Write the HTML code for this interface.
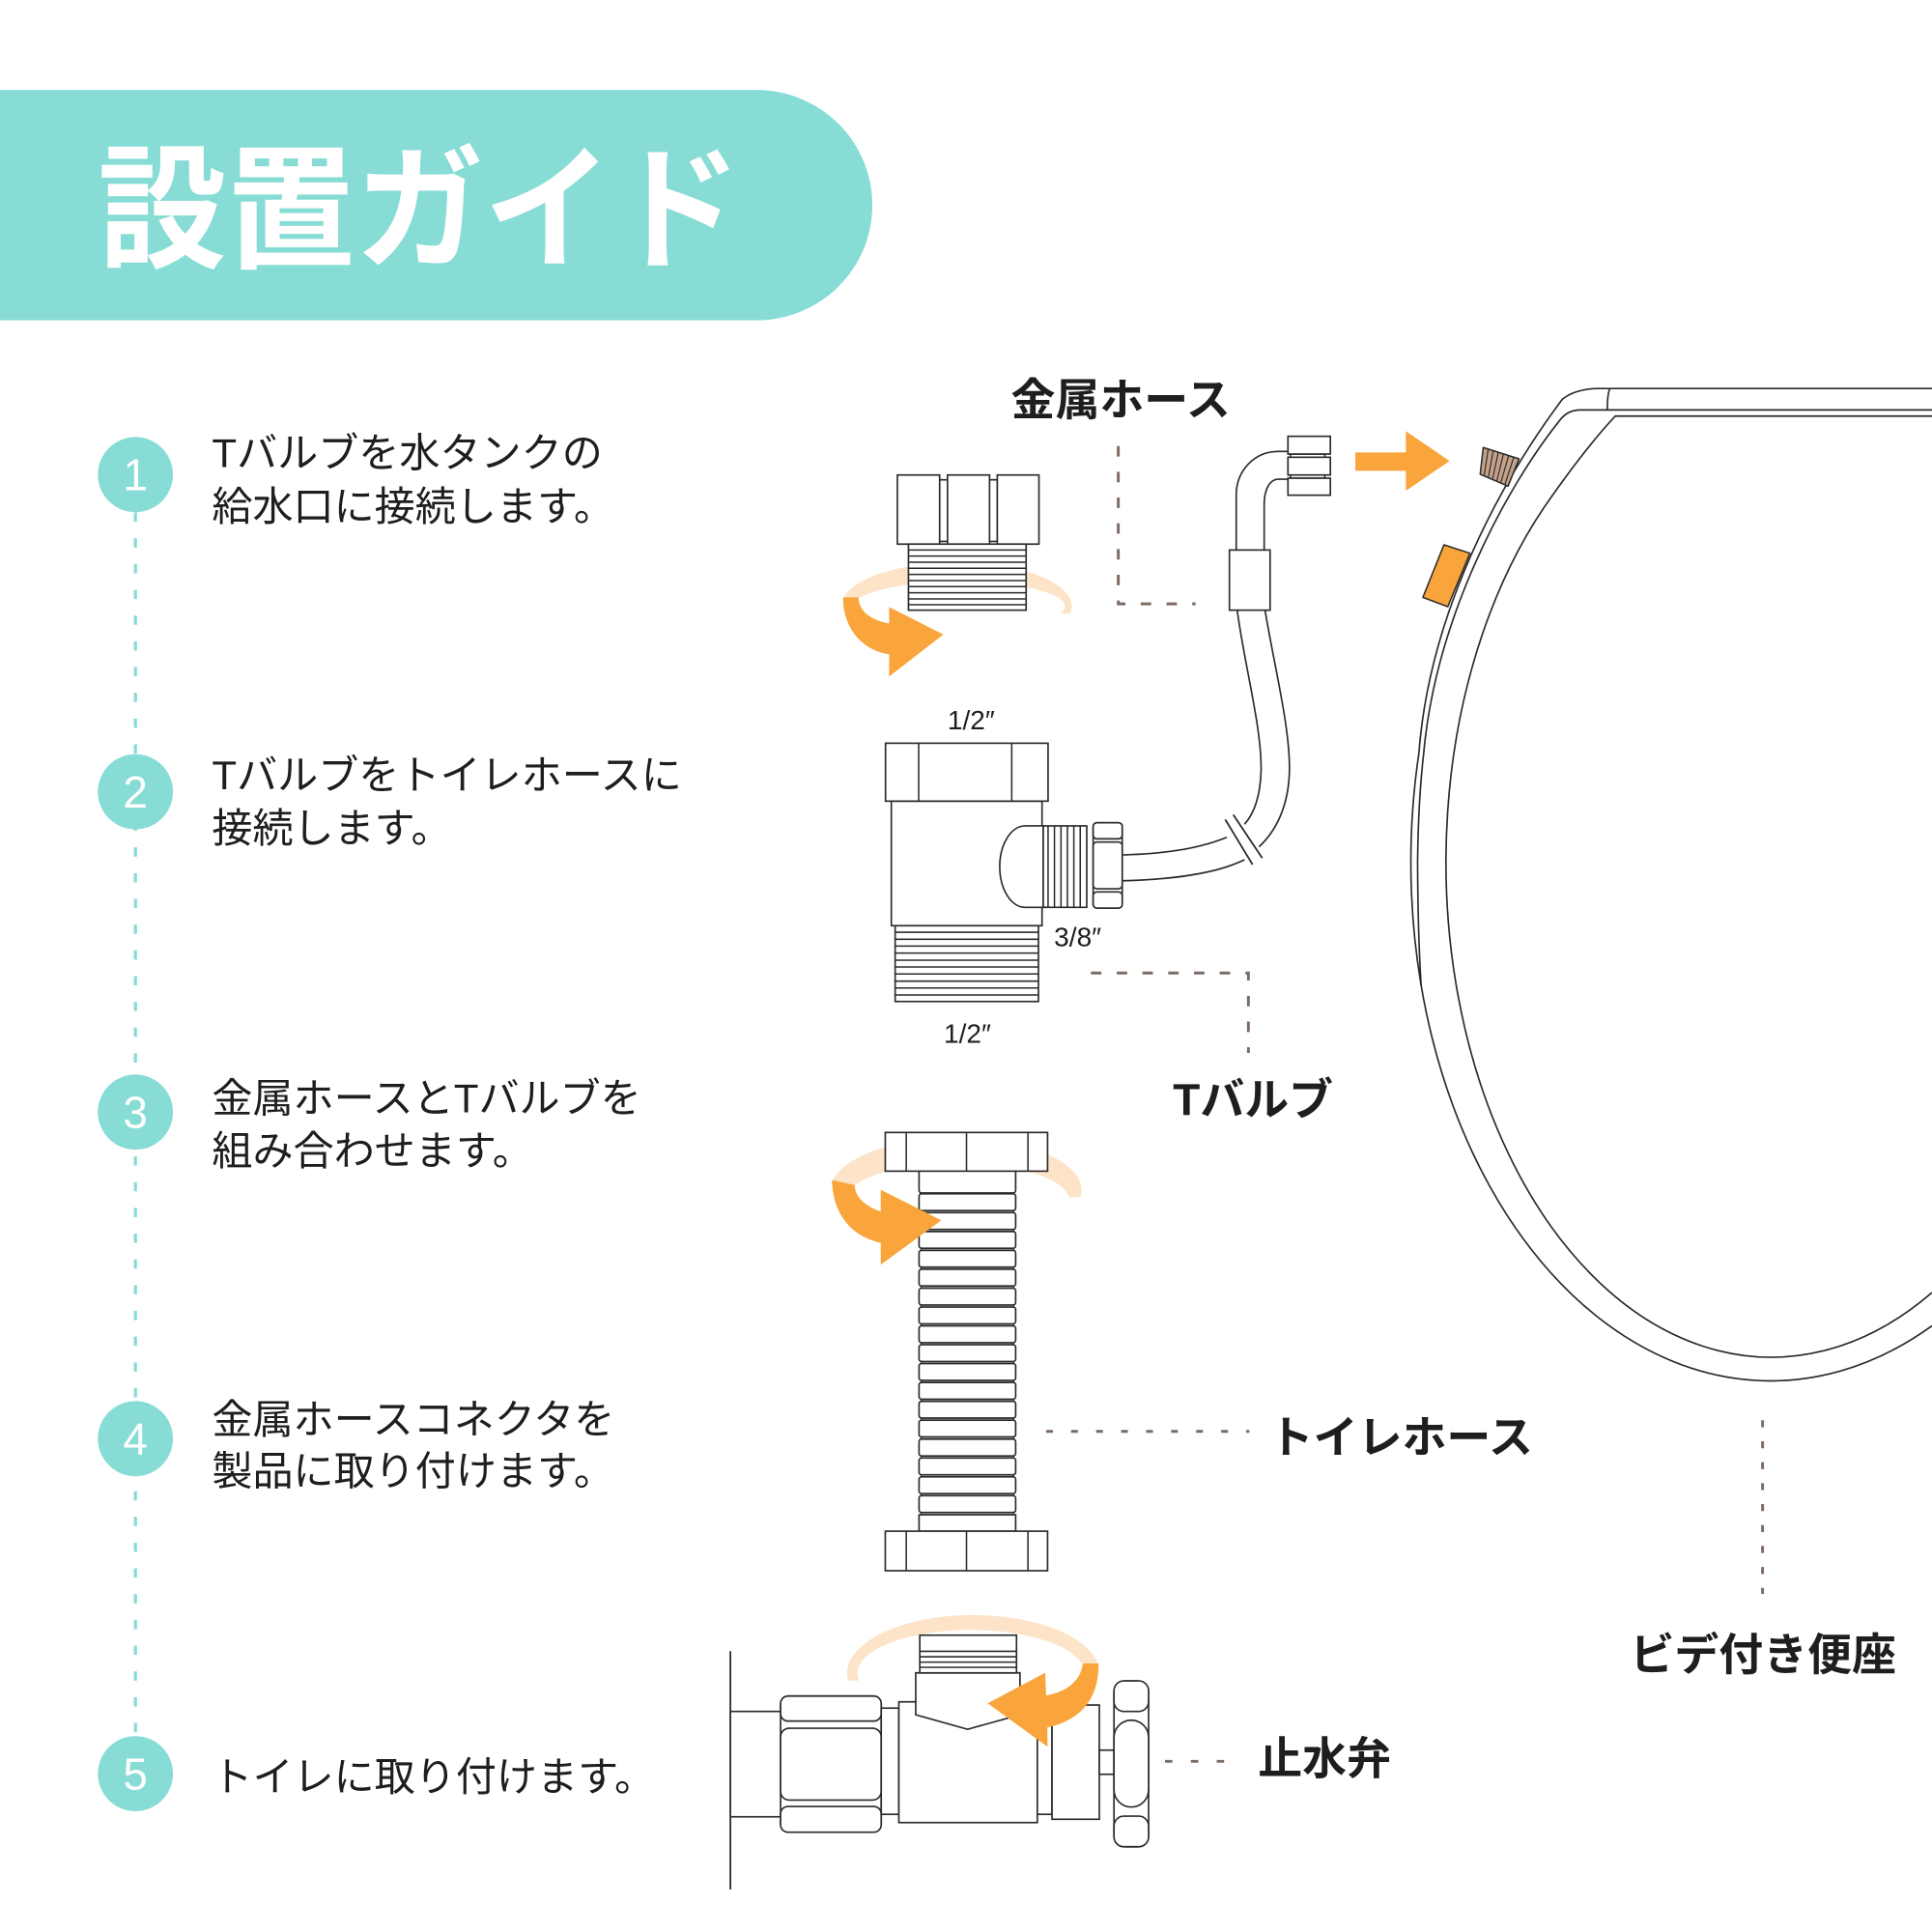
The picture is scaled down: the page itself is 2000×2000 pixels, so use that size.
<!DOCTYPE html>
<html><head><meta charset="utf-8"><style>
html,body{margin:0;padding:0;background:#fff;}
svg{display:block;}
.ln{fill:#fff;stroke:#2a2a2a;stroke-width:1.3;}
.nl{fill:none;stroke:#2a2a2a;stroke-width:1.3;}
.th{stroke:#2a2a2a;stroke-width:1.2;}
.body{font-family:"Liberation Sans","Noto Sans CJK JP",sans-serif;font-size:33px;fill:#1e1e1e;}
.lab{font-family:"Liberation Sans","Noto Sans CJK JP",sans-serif;font-size:36px;font-weight:bold;fill:#1e1e1e;}
.num{font-family:"Liberation Sans",sans-serif;font-size:36px;fill:#fff;text-anchor:middle;}
.dim{font-family:"Liberation Sans","DejaVu Sans",sans-serif;font-size:22px;fill:#1e1e1e;}
.dash{fill:none;stroke:#7b6b63;stroke-width:2.3;}
</style></head><body>
<svg width="2000" height="2000" viewBox="0 0 1568 1568" xmlns="http://www.w3.org/2000/svg">
<rect x="0" y="0" width="1568" height="1568" fill="#fff"/>

<!-- Banner -->
<path d="M0,73 H614 A94,93.5 0 0 1 614,260 H0 Z" fill="#88dcd6"/>
<text x="79.5" y="209" font-family="'Liberation Sans','Noto Sans CJK JP',sans-serif" font-size="110" font-weight="bold" fill="#fff" textLength="522" lengthAdjust="spacingAndGlyphs">設置ガイド</text>

<!-- Left timeline -->
<line x1="109.9" y1="416" x2="109.9" y2="1409" stroke="#88dcd6" stroke-width="2.6" stroke-dasharray="7.5 13.4"/>
<circle cx="109.9" cy="385.2" r="30.5" fill="#88dcd6"/>
<circle cx="109.9" cy="642.6" r="30.5" fill="#88dcd6"/>
<circle cx="109.9" cy="902.6" r="30.5" fill="#88dcd6"/>
<circle cx="109.9" cy="1167.6" r="30.5" fill="#88dcd6"/>
<circle cx="109.9" cy="1439.5" r="30.5" fill="#88dcd6"/>
<text class="num" x="109.9" y="398">1</text>
<text class="num" x="109.9" y="655.5">2</text>
<text class="num" x="109.9" y="915.5">3</text>
<text class="num" x="109.9" y="1180.5">4</text>
<text class="num" x="109.9" y="1452.5">5</text>

<text class="body" x="172" y="379">Tバルブを水タンクの</text>
<text class="body" x="172" y="422.5">給水口に接続します。</text>
<text class="body" x="172" y="640.5">Tバルブをトイレホースに</text>
<text class="body" x="172" y="683.5">接続します。</text>
<text class="body" x="172" y="902.6">金属ホースとTバルブを</text>
<text class="body" x="172" y="945.6">組み合わせます。</text>
<text class="body" x="172" y="1163.6">金属ホースコネクタを</text>
<text class="body" x="172" y="1205.6">製品に取り付けます。</text>
<text class="body" x="172" y="1453.6">トイレに取り付けます。</text>

<!-- Labels -->
<text class="lab" x="820.5" y="337">金属ホース</text>
<text class="lab" x="952" y="905">Tバルブ</text>
<text class="lab" x="1030" y="1179" font-size="35.5">トイレホース</text>
<text class="lab" x="1323" y="1355.5">ビデ付き便座</text>
<text class="lab" x="1021" y="1440" font-size="37.5">止水弁</text>

<!-- Dashed connectors -->
<path class="dash" d="M907.6,362 V490.1 H970.3" stroke-dasharray="8.5 12.4"/>
<path class="dash" d="M885.4,789.7 H1013.2 V854.6" stroke-dasharray="8.5 12.4"/>
<path class="dash" d="M849,1161.7 H1014" stroke-dasharray="5.5 14.8"/>
<path class="dash" d="M1430.5,1152.7 V1293.6" stroke-dasharray="5.7 11.3"/>
<path class="dash" d="M945.5,1429.5 H994" stroke-dasharray="6 15"/>

<!-- ===== Step 1 fitting ===== -->
<path d="M684.3,486 A92,35 0 0 1 868.5,498 L860.3,498 A82,19 0 0 0 696.7,486 Z" fill="#fde4c8"/>
<rect class="ln" x="762.6" y="389.4" width="46.8" height="50"/>
<rect class="ln" x="728.3" y="385.5" width="34.3" height="56.1"/>
<rect class="ln" x="769" y="385.5" width="34.1" height="56.1"/>
<rect class="ln" x="809.4" y="385.5" width="33.8" height="56.1"/>
<rect class="ln" x="737.3" y="441.6" width="95.5" height="53.6"/>
<g class="th">
<line x1="737.3" y1="446.4" x2="832.8" y2="446.4"/>
<line x1="737.3" y1="451.3" x2="832.8" y2="451.3"/>
<line x1="737.3" y1="456.3" x2="832.8" y2="456.3"/>
<line x1="737.3" y1="461.2" x2="832.8" y2="461.2"/>
<line x1="737.3" y1="466.2" x2="832.8" y2="466.2"/>
<line x1="737.3" y1="471.2" x2="832.8" y2="471.2"/>
<line x1="737.3" y1="476.1" x2="832.8" y2="476.1"/>
<line x1="737.3" y1="481.1" x2="832.8" y2="481.1"/>
<line x1="737.3" y1="486.1" x2="832.8" y2="486.1"/>
<line x1="737.3" y1="490.8" x2="832.8" y2="490.8"/>
</g>
<path d="M684.3,484.8 C684,510 700,528 721.6,531 L721.6,549.1 L765.6,515 L721.6,492.6 L721.6,506 C705,503 697,495 696.7,484.8 Z" fill="#f9a53b"/>

<!-- ===== Metal hose ===== -->
<path class="nl" d="M1045.3,366.4 L1037.6,366.4 C1018,366.4 1003.3,382 1003.3,402 V446.4"/>
<path class="nl" d="M1045.3,388.9 L1037.6,388.9 C1030,389 1026,398 1026,410 V446.4"/>
<rect class="ln" x="1047.3" y="368.5" width="27.9" height="19.6"/>
<rect class="ln" x="1045.3" y="354.1" width="34.4" height="14.4"/>
<rect class="ln" x="1045.3" y="371.1" width="34.4" height="14.4"/>
<rect class="ln" x="1045.3" y="388.1" width="34.4" height="13.8"/>
<rect class="ln" x="997.8" y="446.4" width="33" height="48.8"/>
<path class="nl" d="M1004.1,495.2 C1010,540 1024,590 1023.5,625 C1023,645 1018,660 1010,669"/>
<path class="nl" d="M1026.7,495.2 C1034,540 1047,590 1046.5,625 C1046,655 1035,675 1021.8,687.3"/>
<path class="nl" d="M995.7,679.5 C970,690 940,693 911.5,693.9"/>
<path class="nl" d="M1010,697.8 C985,710 945,714 911.5,714.8"/>
<line x1="994.4" y1="665.1" x2="1016.6" y2="701.7" stroke="#2a2a2a" stroke-width="1.4"/>
<line x1="1000.9" y1="661.2" x2="1024.4" y2="696.4" stroke="#2a2a2a" stroke-width="1.4"/>

<!-- ===== T valve ===== -->
<text class="dim" x="769" y="592">1/2″</text>
<text class="dim" x="855.5" y="768">3/8″</text>
<text class="dim" x="766" y="846.5">1/2″</text>
<rect class="ln" x="723.4" y="650.2" width="122.3" height="101.1"/>
<rect class="ln" x="718.7" y="603.2" width="131.9" height="47"/>
<line class="th" x1="745.6" y1="603.2" x2="745.6" y2="650.2"/>
<line class="th" x1="821.1" y1="603.2" x2="821.1" y2="650.2"/>
<rect class="ln" x="726.5" y="751.3" width="116.3" height="61.5"/>
<g class="th">
<line x1="726.5" y1="756.6" x2="842.8" y2="756.6"/>
<line x1="726.5" y1="762.3" x2="842.8" y2="762.3"/>
<line x1="726.5" y1="767.8" x2="842.8" y2="767.8"/>
<line x1="726.5" y1="773.5" x2="842.8" y2="773.5"/>
<line x1="726.5" y1="779.3" x2="842.8" y2="779.3"/>
<line x1="726.5" y1="784.8" x2="842.8" y2="784.8"/>
<line x1="726.5" y1="790.5" x2="842.8" y2="790.5"/>
<line x1="726.5" y1="796.3" x2="842.8" y2="796.3"/>
<line x1="726.5" y1="801.8" x2="842.8" y2="801.8"/>
<line x1="726.5" y1="807.5" x2="842.8" y2="807.5"/>
</g>
<path class="ln" d="M846.7,670.3 H832 A20.6,33 0 0 0 832,736.4 H846.7 Z"/>
<rect class="ln" x="846.7" y="670.3" width="35.3" height="66.1"/>
<g class="th">
<line x1="850.6" y1="670.3" x2="850.6" y2="736.4"/>
<line x1="855.8" y1="670.3" x2="855.8" y2="736.4"/>
<line x1="861.1" y1="670.3" x2="861.1" y2="736.4"/>
<line x1="866.3" y1="670.3" x2="866.3" y2="736.4"/>
<line x1="871.5" y1="670.3" x2="871.5" y2="736.4"/>
<line x1="876.7" y1="670.3" x2="876.7" y2="736.4"/>
</g>
<rect class="ln" x="887.2" y="667.7" width="23.6" height="69.3" rx="3"/>
<rect class="ln" x="887.2" y="667.7" width="23.6" height="13.1" rx="3"/>
<rect class="ln" x="887.2" y="683.4" width="23.6" height="37.9" rx="3"/>
<rect class="ln" x="887.2" y="723.9" width="23.6" height="13.1" rx="3"/>

<!-- ===== Toilet hose ===== -->
<path d="M675.2,960 A101,42 0 0 1 876.8,971.7 L867.6,971.7 A91,30 0 0 0 693.7,962 Z" fill="#fde4c8"/>
<rect x="747.6" y="968" width="75" height="262" fill="#c5cbcb" stroke="#2a2a2a" stroke-width="1"/>
<rect class="ln" x="745.9" y="946" width="78.4" height="22.2" rx="2"/>
<rect class="ln" x="718.5" y="919.1" width="131.7" height="31.4"/>
<line class="th" x1="735.5" y1="919.1" x2="735.5" y2="950.5"/>
<line class="th" x1="784.4" y1="919.1" x2="784.4" y2="950.5"/>
<line class="th" x1="834.3" y1="919.1" x2="834.3" y2="950.5"/>
<g>
<rect class="ln" x="745.9" y="968.9" width="78.4" height="13.6" rx="2"/>
<rect class="ln" x="745.9" y="984.2" width="78.4" height="13.6" rx="2"/>
<rect class="ln" x="745.9" y="999.5" width="78.4" height="13.6" rx="2"/>
<rect class="ln" x="745.9" y="1014.8" width="78.4" height="13.6" rx="2"/>
<rect class="ln" x="745.9" y="1030.1" width="78.4" height="13.6" rx="2"/>
<rect class="ln" x="745.9" y="1045.5" width="78.4" height="13.6" rx="2"/>
<rect class="ln" x="745.9" y="1060.8" width="78.4" height="13.6" rx="2"/>
<rect class="ln" x="745.9" y="1076.1" width="78.4" height="13.6" rx="2"/>
<rect class="ln" x="745.9" y="1091.4" width="78.4" height="13.6" rx="2"/>
<rect class="ln" x="745.9" y="1106.7" width="78.4" height="13.6" rx="2"/>
<rect class="ln" x="745.9" y="1122.0" width="78.4" height="13.6" rx="2"/>
<rect class="ln" x="745.9" y="1137.3" width="78.4" height="13.6" rx="2"/>
<rect class="ln" x="745.9" y="1152.6" width="78.4" height="13.6" rx="2"/>
<rect class="ln" x="745.9" y="1168.0" width="78.4" height="13.6" rx="2"/>
<rect class="ln" x="745.9" y="1183.3" width="78.4" height="13.6" rx="2"/>
<rect class="ln" x="745.9" y="1198.6" width="78.4" height="13.6" rx="2"/>
<rect class="ln" x="745.9" y="1213.9" width="78.4" height="13.6" rx="2"/>
<rect class="ln" x="745.9" y="1229.4" width="78.4" height="13.3"/>
</g>
<rect class="ln" x="718.5" y="1242.7" width="131.7" height="32.1"/>
<line class="th" x1="735.5" y1="1242.7" x2="735.5" y2="1274.8"/>
<line class="th" x1="784.4" y1="1242.7" x2="784.4" y2="1274.8"/>
<line class="th" x1="834.3" y1="1242.7" x2="834.3" y2="1274.8"/>
<path d="M675.2,957.8 C676,985 690,1003 714.8,1008.7 L714.8,1026.5 L764,990.4 L714.8,965.6 L714.8,983.2 C700,978 693.7,970 693.7,961.8 Z" fill="#f9a53b"/>

<!-- ===== Stop valve ===== -->
<line x1="592.8" y1="1340.1" x2="592.8" y2="1533.5" stroke="#2a2a2a" stroke-width="1.4"/>
<rect class="ln" x="592.8" y="1389" width="41.4" height="85.5"/>
<path d="M688.2,1364 A102,47 0 0 1 891.6,1352 L878.9,1352 A92,35 0 0 0 697.2,1364 Z" fill="#fde4c8"/>
<rect class="ln" x="633.5" y="1376.5" width="81.7" height="110.5" rx="7"/>
<rect class="ln" x="633.5" y="1376.5" width="81.7" height="20.3" rx="6"/>
<rect class="ln" x="633.5" y="1402.6" width="81.7" height="58.3" rx="7"/>
<rect class="ln" x="633.5" y="1466.1" width="81.7" height="20.9" rx="6"/>
<rect class="ln" x="715.2" y="1386.3" width="14.3" height="86.2"/>
<rect class="ln" x="729.5" y="1381.2" width="112.4" height="98"/>
<path class="ln" d="M743.2,1357.7 H827.8 V1391.7 L785.3,1403.5 L743.2,1391.7 Z"/>
<rect class="ln" x="746.5" y="1327.1" width="78.5" height="30.6"/>
<g class="th">
<line x1="746.5" y1="1340.2" x2="825" y2="1340.2"/>
<line x1="746.5" y1="1344.6" x2="825" y2="1344.6"/>
<line x1="746.5" y1="1349" x2="825" y2="1349"/>
<line x1="746.5" y1="1353.2" x2="825" y2="1353.2"/>
</g>
<rect class="ln" x="841.9" y="1389" width="11.9" height="83.5"/>
<rect class="ln" x="853.8" y="1383.8" width="38.4" height="92.7"/>
<rect class="ln" x="892.2" y="1420.4" width="11.9" height="19.6"/>
<rect class="ln" x="904.1" y="1364.2" width="28.1" height="134.6" rx="9"/>
<rect class="ln" x="904.1" y="1364.2" width="28.1" height="24.8" rx="8"/>
<rect class="ln" x="904.1" y="1396.1" width="28.1" height="70.5" rx="14"/>
<rect class="ln" x="904.1" y="1474" width="28.1" height="24.8" rx="8"/>
<path d="M878.9,1350 L891.6,1350 C892,1378 878,1396 850,1402 L850.2,1417.7 L801.6,1382.4 L848.3,1357.6 L849,1376 C866,1373 877,1364 878.9,1350 Z" fill="#f9a53b"/>

<!-- ===== Seat ===== -->
<path class="nl" d="M1568,315.3 H1296 Q1278,316 1268,324 C1215,395 1160,500 1151.6,611 A292,421 0 0 0 1568,1076"/>
<path class="nl" d="M1568,332.7 H1282 Q1272,333 1266,341 C1219,400 1165,505 1155.5,611 Q1151,650 1150.5,700 Q1150.8,760 1153.4,800"/>
<path class="nl" d="M1568,337.7 H1311 C1290,360 1272,385 1260,402 A264,402 0 0 0 1568,1049"/>
<path class="nl" d="M1306.5,315.3 Q1304.5,320 1304.5,332.7"/>
<!-- brown nozzle -->
<path d="M1203.8,363.2 L1232.9,372.4 L1223.9,394.6 L1201.3,384.9 Z" fill="#c4a189" stroke="#2a2a2a" stroke-width="1.2" stroke-linejoin="round"/>
<g stroke="#2a2a2a" stroke-width="0.9">
<line x1="1207.8" y1="364.5" x2="1204.5" y2="386.3"/>
<line x1="1211.9" y1="365.8" x2="1207.9" y2="387.7"/>
<line x1="1216" y1="367.1" x2="1211.3" y2="389.2"/>
<line x1="1220.2" y1="368.4" x2="1214.7" y2="390.7"/>
<line x1="1224.4" y1="369.7" x2="1218" y2="392.1"/>
<line x1="1228.6" y1="371" x2="1221.3" y2="393.5"/>
</g>
<!-- orange tab -->
<path d="M1171.9,442.2 L1193,449 L1175,492.4 L1154.8,484.8 Z" fill="#f9a53b" stroke="#2a2a2a" stroke-width="1.2" stroke-linejoin="round"/>
<!-- arrow to seat -->
<path d="M1100,367.2 H1141 V350 L1176.5,374.2 L1141,398.3 V382.1 H1100 Z" fill="#f9a53b"/>
</svg>
</body></html>
